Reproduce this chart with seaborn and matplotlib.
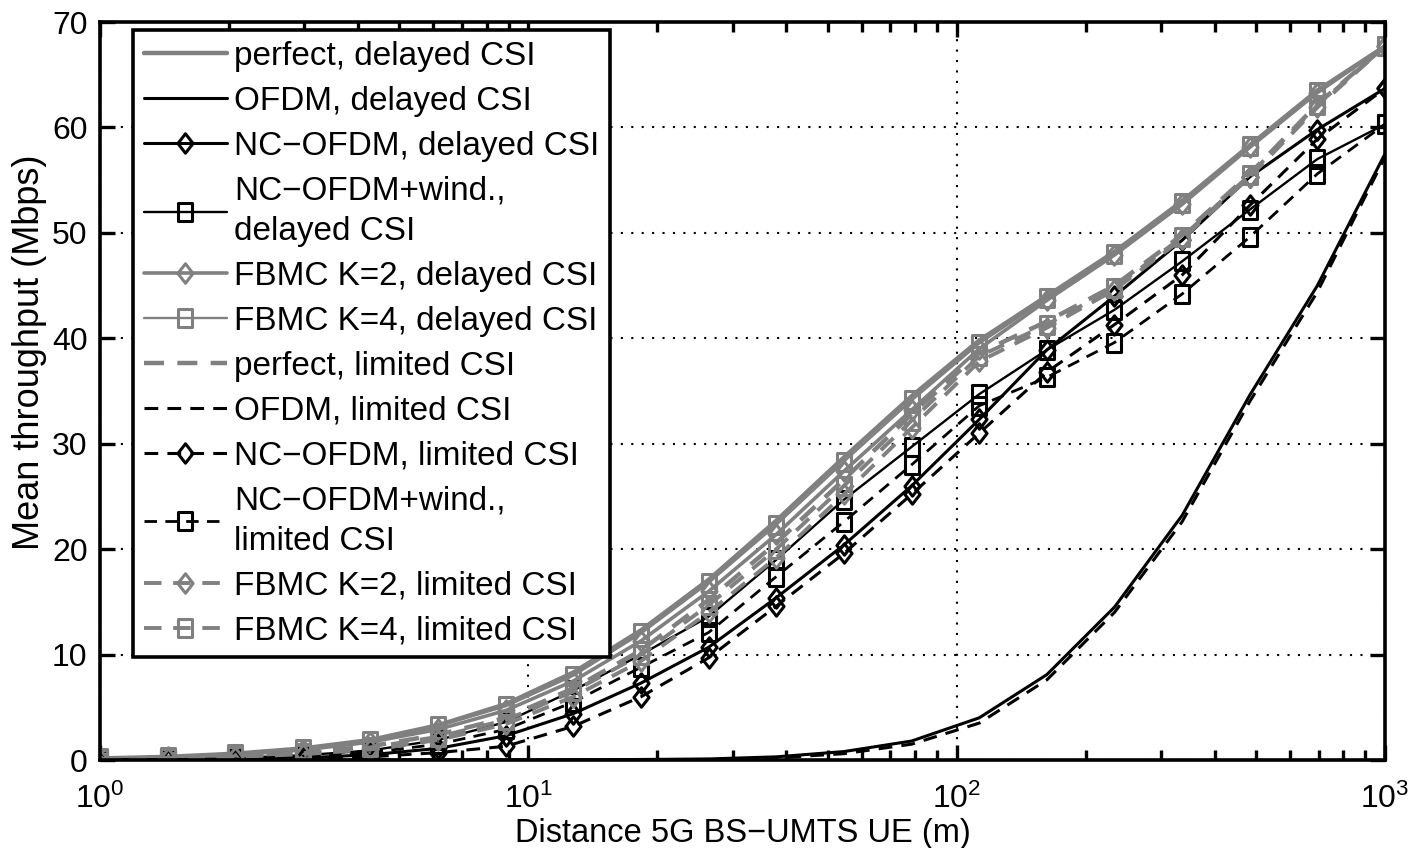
import numpy as np
import pandas as pd
import matplotlib
matplotlib.use("Agg")
import matplotlib.pyplot as plt
from matplotlib import font_manager as fm
from matplotlib.path import Path
import seaborn as sns
from matplotlib.ticker import FixedLocator, NullFormatter, LogLocator

# ---------------- data ----------------
distance = [1.0, 1.44, 2.07, 2.98, 4.28, 6.16, 8.86, 12.74, 18.33, 26.37,
            37.93, 54.56, 78.48, 112.9, 162.4, 233.6, 336.0, 483.3, 695.2, 1000.0]

perfect_delayed = [0.15, 0.3, 0.6, 1.1, 1.9, 3.3, 5.3, 8.3, 12.3, 17.1,
                   22.7, 28.7, 34.5, 39.8, 44.0, 48.2, 53.0, 58.3, 63.5, 67.7]
ofdm_delayed = [0.0, 0.0, 0.0, 0.0, 0.0, 0.0, 0.0, 0.02, 0.05, 0.1,
                0.3, 0.8, 1.8, 4.0, 8.1, 14.5, 23.2, 34.6, 45.0, 57.5]
ncofdm_delayed = [0.02, 0.05, 0.1, 0.2, 0.5, 1.1, 2.3, 4.4, 7.3, 10.7,
                  15.4, 20.4, 26.0, 32.3, 38.9, 44.0, 49.3, 55.3, 59.8, 63.7]
ncofdm_wind_delayed = [0.05, 0.1, 0.2, 0.45, 0.9, 1.9, 3.6, 6.6, 10.0, 13.6,
                       19.0, 24.7, 29.7, 34.7, 38.9, 42.7, 47.3, 52.2, 57.0, 60.3]
fbmc2_delayed = [0.1, 0.25, 0.5, 0.95, 1.7, 2.9, 4.7, 7.5, 11.3, 16.0,
                 21.4, 27.4, 33.2, 39.0, 43.6, 47.9, 52.7, 58.1, 63.3, 67.7]
fbmc4_delayed = [0.15, 0.3, 0.55, 1.05, 1.8, 3.2, 5.1, 8.0, 12.0, 16.8,
                 22.3, 28.3, 34.1, 39.5, 43.8, 48.0, 52.8, 58.2, 63.4, 67.7]

perfect_limited = [0.1, 0.2, 0.4, 0.7, 1.3, 2.4, 4.0, 6.8, 10.4, 15.2,
                   20.6, 26.6, 32.8, 38.6, 41.6, 45.0, 49.8, 55.6, 62.2, 67.7]
ofdm_limited = [0.0, 0.0, 0.0, 0.0, 0.0, 0.0, 0.0, 0.01, 0.03, 0.05,
                0.2, 0.6, 1.5, 3.5, 7.6, 14.0, 22.6, 34.0, 44.4, 57.2]
ncofdm_limited = [0.01, 0.02, 0.05, 0.1, 0.3, 0.7, 1.3, 3.2, 6.0, 9.7,
                  14.6, 19.6, 25.2, 31.0, 36.8, 41.3, 46.0, 52.6, 58.9, 63.7]
ncofdm_wind_limited = [0.02, 0.05, 0.1, 0.3, 0.7, 1.5, 2.9, 5.5, 8.8, 12.1,
                       17.4, 22.6, 28.0, 33.6, 36.3, 39.6, 44.2, 49.6, 55.6, 60.3]
fbmc2_limited = [0.05, 0.15, 0.3, 0.55, 1.0, 1.9, 3.4, 6.0, 9.4, 14.0,
                 19.2, 25.2, 31.5, 37.8, 41.0, 44.6, 49.4, 55.3, 61.9, 67.7]
fbmc4_limited = [0.1, 0.2, 0.35, 0.65, 1.2, 2.2, 3.8, 6.5, 10.0, 14.7,
                 20.0, 26.0, 32.2, 38.3, 41.3, 44.8, 49.6, 55.5, 62.1, 67.7]

labels = ["perfect, delayed CSI", "OFDM, delayed CSI", "NC\u2212OFDM, delayed CSI",
          "NC\u2212OFDM+wind.,\ndelayed CSI", "FBMC K=2, delayed CSI", "FBMC K=4, delayed CSI",
          "perfect, limited CSI", "OFDM, limited CSI", "NC\u2212OFDM, limited CSI",
          "NC\u2212OFDM+wind.,\nlimited CSI", "FBMC K=2, limited CSI", "FBMC K=4, limited CSI"]
series = [perfect_delayed, ofdm_delayed, ncofdm_delayed, ncofdm_wind_delayed,
          fbmc2_delayed, fbmc4_delayed, perfect_limited, ofdm_limited,
          ncofdm_limited, ncofdm_wind_limited, fbmc2_limited, fbmc4_limited]

x_tick_values = [1, 10, 100, 1000]
x_tick_labels = ["$10^{0}$", "$10^{1}$", "$10^{2}$", "$10^{3}$"]
y_tick_values = [0, 10, 20, 30, 40, 50, 60, 70]

# ---------------- fonts ----------------
avail = {f.name for f in fm.fontManager.ttflist}
NARROW = "Liberation Sans Narrow" in avail
FONT = "Liberation Sans Narrow" if NARROW else "Liberation Sans"
k = 1.0 if NARROW else 0.87
TICK_FS = 26.5 * k
LEG_FS = 27.5 * k
XLAB_FS = 27 * k

# narrow-looking markers (reference is a horizontally compressed image)
DIAMOND = Path([(0, 1), (0.78, 0), (0, -1), (-0.78, 0), (0, 1)],
               [Path.MOVETO, Path.LINETO, Path.LINETO, Path.LINETO, Path.CLOSEPOLY])
SQUARE = Path([(-0.82, -1), (0.82, -1), (0.82, 1), (-0.82, 1), (-0.82, -1)],
              [Path.MOVETO, Path.LINETO, Path.LINETO, Path.LINETO, Path.CLOSEPOLY])

# ---------------- styles ----------------
GRAY = "#808080"
DASH = (0, (4.5, 3.0))
styles = [
    dict(color=GRAY, ls="-", lw=3.2, marker=None, ms=0),
    dict(color="black", ls="-", lw=2.2, marker=None, ms=0),
    dict(color="black", ls="-", lw=2.2, marker=DIAMOND, ms=14),
    dict(color="black", ls="-", lw=1.7, marker=SQUARE, ms=12.5),
    dict(color=GRAY, ls="-", lw=2.6, marker=DIAMOND, ms=14),
    dict(color=GRAY, ls="-", lw=1.7, marker=SQUARE, ms=12.5),
    dict(color=GRAY, ls=DASH, lw=3.2, marker=None, ms=0),
    dict(color="black", ls=DASH, lw=2.2, marker=None, ms=0),
    dict(color="black", ls=DASH, lw=2.2, marker=DIAMOND, ms=14),
    dict(color="black", ls=DASH, lw=2.0, marker=SQUARE, ms=12.5),
    dict(color=GRAY, ls=DASH, lw=2.8, marker=DIAMOND, ms=14),
    dict(color=GRAY, ls=DASH, lw=2.8, marker=SQUARE, ms=12.5),
]

sns.set_theme(style="white")
plt.rcParams["font.family"] = [FONT, "Liberation Sans", "DejaVu Sans"]
plt.rcParams["mathtext.fontset"] = "custom"
plt.rcParams["mathtext.rm"] = FONT
plt.rcParams["mathtext.it"] = FONT
plt.rcParams["mathtext.bf"] = FONT
for key in ["text.color", "axes.labelcolor", "xtick.color", "ytick.color"]:
    plt.rcParams[key] = "black"

fig = plt.figure(figsize=(14.18, 8.48), dpi=100)
ax = fig.add_axes([100 / 1418, 1 - 760 / 848, 1285 / 1418, 738 / 848])

for lab, vals, st in zip(labels, series, styles):
    df = pd.DataFrame({"distance": distance, "throughput": vals})
    kw = dict(color=st["color"], linestyle=st["ls"], linewidth=st["lw"], label=lab)
    if st["marker"] is not None:
        kw.update(marker=st["marker"], markersize=st["ms"], markerfacecolor="none",
                  markeredgecolor=st["color"], markeredgewidth=2.2)
    sns.lineplot(data=df, x="distance", y="throughput", ax=ax, legend=False, **kw)

ax.set_xscale("log")
ax.set_xlim(1, 1000)
ax.set_ylim(0, 70)
ax.xaxis.set_major_locator(FixedLocator(x_tick_values))
ax.set_xticklabels(x_tick_labels)
ax.xaxis.set_minor_locator(LogLocator(base=10, subs=np.arange(2, 10)))
ax.xaxis.set_minor_formatter(NullFormatter())
ax.yaxis.set_major_locator(FixedLocator(y_tick_values))
ax.set_yticklabels([str(v) for v in y_tick_values])

ax.grid(True, which="major", color="black", linestyle=(0, (1, 4)), linewidth=1.5)
ax.tick_params(which="both", direction="in", top=True, right=True, bottom=True, left=True,
               color="black", width=2.4, labelsize=TICK_FS)
ax.tick_params(which="major", length=11)
ax.tick_params(which="minor", length=7)
ax.tick_params(axis="x", pad=17)
ax.tick_params(axis="y", pad=9)
for sp in ax.spines.values():
    sp.set_color("black")
    sp.set_linewidth(2.6)

ax.set_xlabel("Distance 5G BS\u2212UMTS UE (m)", fontsize=XLAB_FS, labelpad=2)
ax.set_ylabel("Mean throughput (Mbps)", fontsize=26,
              family=["Liberation Sans", "DejaVu Sans"])
ax.yaxis.set_label_coords(-0.041, 0.553)

handles, labs = ax.get_legend_handles_labels()
leg = ax.legend(handles, labs, loc="upper left", bbox_to_anchor=(0.0257, 0.989),
                prop={"size": LEG_FS}, frameon=True, fancybox=False, framealpha=1,
                edgecolor="black", handlelength=2.5, handletextpad=0.22,
                labelspacing=0.42, borderpad=0.32, numpoints=1, borderaxespad=0)
leg.get_frame().set_linewidth(2.6)
for t in leg.get_texts():
    t.set_linespacing(1.38)
leg.set_zorder(10)

fig.savefig("out.png", dpi=100)
